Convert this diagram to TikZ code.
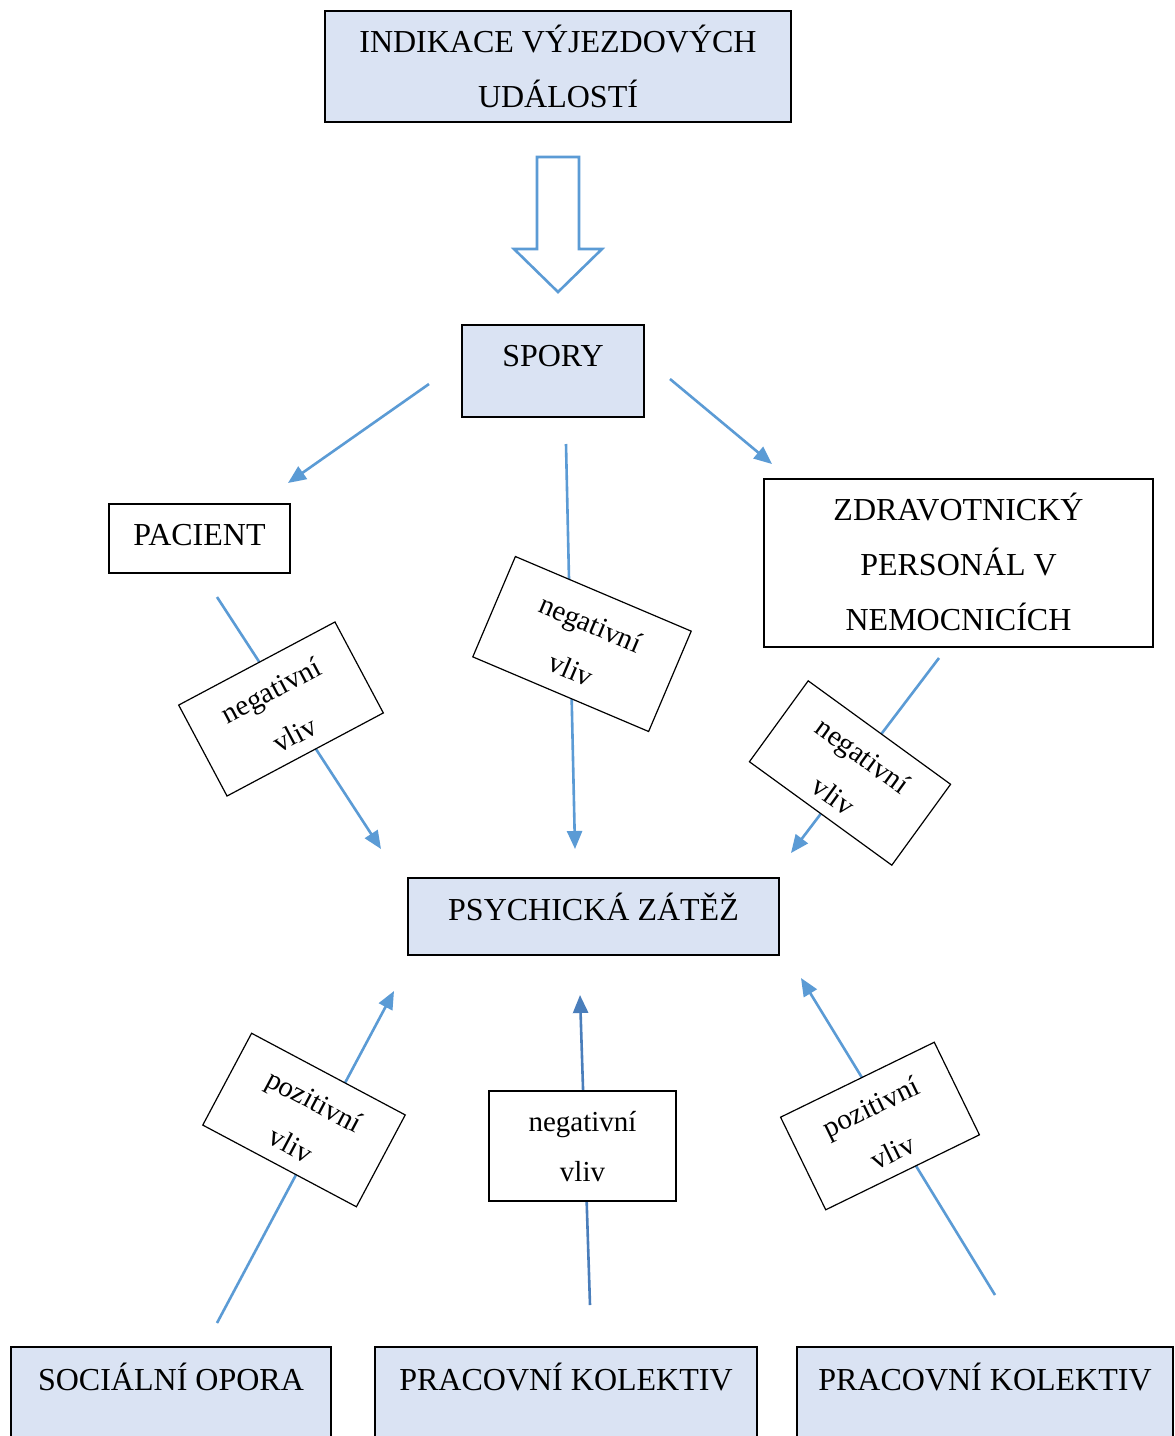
\documentclass[tikz,border=0pt]{standalone}
\usepackage{fontspec}
\setmainfont{Liberation Serif}
\usetikzlibrary{arrows.meta}
\definecolor{boxblue}{HTML}{DAE3F3}
\definecolor{arrblue}{HTML}{5B9BD5}
\definecolor{arrdark}{HTML}{4A7EBB}
\tikzset{
  mainbox/.style={draw=black, line width=1.5pt, inner xsep=0pt, inner ysep=0pt, align=center,
    font=\fontsize{32}{55}\selectfont},
  bluebox/.style={mainbox, fill=boxblue},
  whitebox/.style={mainbox, fill=white},
  lbl/.style={draw=black, line width=1.2pt, fill=white, inner xsep=0pt, inner ysep=0pt, align=center,
    font=\fontsize{29}{50}\selectfont, anchor=center},
  conn/.style={draw=arrblue, line width=2.6pt, -{Triangle[length=18pt,width=15pt]}},
  hollow/.style={draw=arrblue, line width=2.6pt, fill=white, line join=miter}
}
\begin{document}
\begin{tikzpicture}[x=1pt,y=1pt]
\useasboundingbox (0,0) rectangle (1175,-1436);
\clip (0,0) rectangle (1175,-1436);
\fill[white] (0,0) rectangle (1175,-1436);

% main boxes
\node[bluebox, anchor=north, minimum width=466pt, text height=97pt, text depth=14pt] (ind) at (558,-10) {INDIKACE VÝJEZDOVÝCH\\UDÁLOSTÍ};
\node[bluebox, anchor=north, minimum width=182pt, text height=42pt, text depth=50pt] (spory) at (553,-324) {SPORY};
\node[whitebox, anchor=north, minimum width=181pt, text height=42pt, text depth=27pt] (pac) at (199.5,-503) {PACIENT};
\node[whitebox, anchor=north, minimum width=389pt, text height=152pt, text depth=16pt] (zdr) at (958.5,-478) {ZDRAVOTNICKÝ\\PERSONÁL V\\NEMOCNICÍCH};
\node[bluebox, anchor=north, minimum width=371pt, text height=43pt, text depth=34pt] (psy) at (593.5,-877) {PSYCHICKÁ ZÁTĚŽ};
\node[bluebox, anchor=north, minimum width=320pt, text height=44pt, text depth=70pt] (soc) at (171,-1346) {SOCIÁLNÍ OPORA};
\node[bluebox, anchor=north, minimum width=382pt, text height=44pt, text depth=70pt] (kol1) at (566,-1346) {PRACOVNÍ KOLEKTIV};
\node[bluebox, anchor=north, minimum width=376pt, text height=44pt, text depth=70pt] (kol2) at (985,-1346) {PRACOVNÍ KOLEKTIV};

% hollow block arrow
\path[hollow] (537,-157) -- (579,-157) -- (579,-249) -- (602,-249) -- (558,-292) -- (514,-249) -- (537,-249) -- cycle;

% connector end points
\coordinate (s1) at (429,-384);  \coordinate (e1) at (288,-483);
\coordinate (s2) at (670,-379);  \coordinate (e2) at (772,-464);
\coordinate (s3) at (566,-444);  \coordinate (e3) at (575,-849);
\coordinate (s4) at (217,-597);  \coordinate (e4) at (381,-849);
\coordinate (s5) at (939,-658);  \coordinate (e5) at (791,-853);
\coordinate (s6) at (217,-1323); \coordinate (e6) at (394,-991);
\coordinate (s7) at (590,-1305); \coordinate (e7) at (580,-995);
\coordinate (s8) at (995,-1295); \coordinate (e8) at (801,-978);

\draw[conn] (s1) -- (e1);
\draw[conn] (s2) -- (e2);
\draw[conn] (s3) -- (e3);
\draw[conn] (s4) -- (e4);
\draw[conn] (s5) -- (e5);
\draw[conn] (s6) -- (e6);
\draw[conn, draw=arrdark] (s7) -- (e7);
\draw[conn] (s8) -- (e8);

% labels on connectors
\node[lbl, rotate=28, minimum width=177pt, text height=90pt, text depth=13pt] (l1) at (281,-709) {negativní\\vliv};
\node[lbl, rotate=-23, minimum width=191pt, text height=92pt, text depth=17pt] (l2) at (582,-644) {negativní\\vliv};
\node[lbl, rotate=-36, minimum width=176pt, text height=88pt, text depth=12pt] (l3) at (850,-773) {negativní\\vliv};
\node[lbl, rotate=-28, minimum width=174pt, text height=90pt, text depth=14pt] (l4) at (304,-1120) {pozitivní\\vliv};
\node[lbl, minimum width=187pt, text height=90pt, text depth=20pt] (l5) at (582.5,-1146) {negativní\\vliv};
\node[lbl, rotate=26, minimum width=171pt, text height=90pt, text depth=13pt] (l6) at (880,-1126) {pozitivní\\vliv};
\end{tikzpicture}
\end{document}
